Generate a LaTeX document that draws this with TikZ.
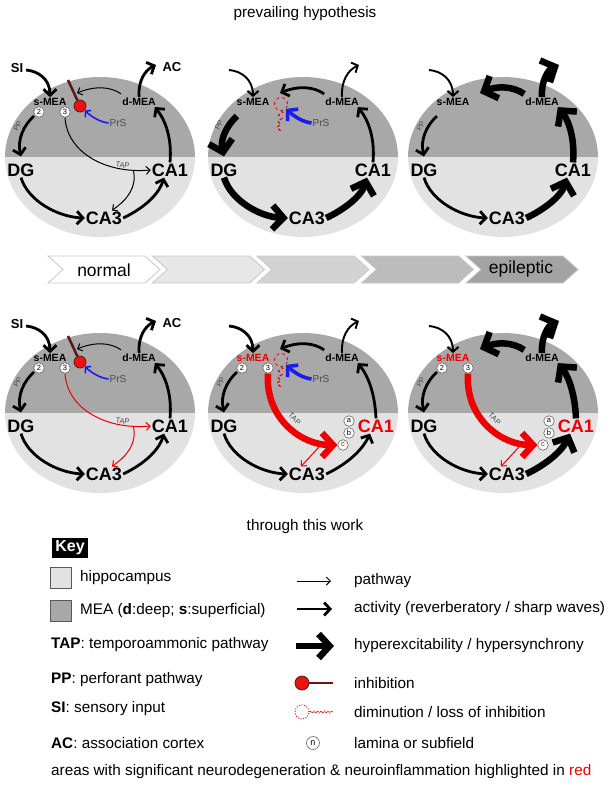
\documentclass[tikz,border=0pt]{standalone}
\usepackage{fontspec}
\setmainfont{Liberation Sans}
\usetikzlibrary{arrows.meta,decorations.pathmorphing}

\definecolor{meagray}{RGB}{168,168,168}
\definecolor{hipgray}{RGB}{226,226,226}
\definecolor{inhred}{RGB}{236,18,18}
\definecolor{stemred}{RGB}{92,22,22}
\definecolor{prsblue}{RGB}{28,28,232}
\definecolor{labelgray}{RGB}{75,75,75}
\definecolor{hotred}{RGB}{238,0,0}
\definecolor{chevA}{RGB}{231,231,231}
\definecolor{chevB}{RGB}{211,211,211}
\definecolor{chevC}{RGB}{188,188,188}
\definecolor{chevD}{RGB}{163,163,163}

\tikzset{
  region/.style={font=\fontsize{18}{18}\selectfont\bfseries, inner sep=1pt},
  mealab/.style={font=\fontsize{10.5}{11}\selectfont\bfseries, inner sep=1pt},
  iolab/.style={font=\fontsize{13}{13}\selectfont\bfseries, inner sep=1pt},
  faint/.style={font=\fontsize{7.5}{8}\selectfont, text=labelgray, inner sep=1pt},
  prslab/.style={font=\fontsize{10}{10}\selectfont, text=labelgray, inner sep=1pt},
  lamina/.style={circle, draw=black!60, fill=white, line width=0.6pt, inner sep=0pt,
    minimum size=10.5pt, font=\fontsize{7.5}{8}\selectfont},
  ball/.style={circle, fill=inhred, draw=stemred, line width=0.8pt, minimum size=12pt, inner sep=0pt},
  lostball/.style={circle, draw=hotred, dashed, line width=0.8pt, minimum size=13pt, inner sep=0pt},
  pathway/.style={draw, line width=1pt, -{Straight Barb[length=4pt,width=8pt]}},
  medium/.style={draw, line width=1.9pt, -{Straight Barb[length=5pt,width=11pt]}},
  activity/.style={draw, line width=2.8pt, -{Straight Barb[length=6pt,width=13pt]}},
  hyper/.style={draw, line width=6.5pt, -{Straight Barb[length=11pt,width=24pt]}},
  inhstem/.style={draw=stemred, line width=2.5pt},
  lostlink/.style={draw=hotred, dashed, line width=1.1pt, decorate,
    decoration={zigzag, amplitude=2pt, segment length=6pt}},
  prsarrow/.style={draw=prsblue, line width=1.6pt, -{Straight Barb[length=4pt,width=9pt]}},
  prsstrong/.style={draw=prsblue, line width=3.6pt, -{Straight Barb[length=7pt,width=16pt]}},
  siin/.style={activity}, acout/.style={activity}, dmeasmea/.style={pathway},
  ppath/.style={activity}, dgca3/.style={activity}, ca3ca1/.style={activity},
  ca1dmea/.style={activity}, smea/.style={}, ca1lab/.style={},
  heading/.style={font=\fontsize{15.3}{16}\selectfont, inner sep=0pt},
  keyitem/.style={font=\fontsize{15.3}{16}\selectfont, inner sep=0pt, anchor=west},
  swatch/.style={draw=black!65, line width=1pt, minimum size=21pt, inner sep=0pt},
  stage/.style={font=\fontsize{17.5}{18}\selectfont, inner sep=0pt}
}

% one MEA / hippocampus loop, drawn round (0,0)
\newcommand{\hippo}{%
  \begin{scope}
    \clip (0,0) ellipse [x radius=95, y radius=80];
    \fill[meagray] (-96,-81) rectangle (96,0);
    \fill[hipgray] (-96,0) rectangle (96,81);
  \end{scope}
  \node[region] (DG) at (-79,13) {DG};
  \node[region, ca1lab] (CA1) at (70,13) {CA1};
  \node[region] (CA3) at (4,61) {CA3};
  \node[mealab, smea] (sMEA) at (-50,-55) {s-MEA};
  \node[mealab] (dMEA) at (39,-55) {d-MEA};
  \coordinate (si) at (-74,-87);
  \coordinate (ac) at (56,-92);
  \coordinate (dm) at (-23,-64);
  \coordinate (pp) at (-66,-41);
  \path[siin] (si) .. controls (-62,-86) and (-50,-78) .. (sMEA.north);
  \path[acout] (dMEA.north) .. controls (38,-76) and (45,-87) .. (ac);
  \path[dmeasmea] ([yshift=3pt]dMEA.north west) .. controls (10,-71) and (-6,-71) .. (dm);
  \path[ppath] (pp) .. controls (-76,-32) and (-83,-18) .. ([yshift=6pt]DG.north)
    node[faint, pos=.4, sloped, above=2pt] (pplab) {PP};
  \path[dgca3] (DG.south) .. controls (-72,44) and (-42,60) .. (CA3.west);
  \path[ca3ca1] (CA3.east) .. controls (40,53) and (58,40) .. ([xshift=-6pt]CA1.south);
  \path[ca1dmea] (CA1.north) .. controls (72,-18) and (66,-36) .. ([xshift=-2pt]dMEA.south east);
}

\begin{document}
\begin{tikzpicture}[x=1pt, y=-1pt]
\useasboundingbox (0,0) rectangle (611,788);

\node[heading] (prevailing) at (305,14) {prevailing hypothesis};

% normal
\begin{scope}[shift={(100,157)}, name prefix=ta-]
  \hippo
  \node[iolab] (SI) at (-83,-89) {SI};
  \node[iolab] (AC) at (72,-90) {AC};
  \node[lamina] (c2) at (-61,-45) {2};
  \node[lamina] (c3) at (-35,-45) {3};
  \coordinate (stemtop) at (-32,-77);
  \node[ball] (inh) at (-20,-51) {};
  \path[inhstem] (stemtop) -- (inh);
  \node[prslab] (PrS) at (18,-34) {PrS};
  \path[prsarrow] (PrS.west) .. controls (0,-35) and (-8,-40) .. (inh.south east);
  \path[pathway] (c3.south) .. controls (-33,-5) and (5,17) .. (CA1.west)
    node[faint, pos=.78, sloped, above] (taplab) {TAP}
    coordinate[pos=.87] (fork);
  \path[pathway] (fork) .. controls (37,30) and (28,42) .. ([xshift=8pt]CA3.north);
\end{scope}

\begin{scope}[shift={(303,157)}, name prefix=tb-, siin/.style={medium},
  acout/.style={medium}, dmeasmea/.style={activity}, ppath/.style={hyper},
  dgca3/.style={hyper}, ca3ca1/.style={hyper}]
  \hippo
  \node[lostball] (inh) at (-22,-53) {};
  \coordinate (lostend) at (-25,-25);
  \path[lostlink] (inh.south) -- (lostend);
  \node[prslab] (PrS) at (18,-34) {PrS};
  \path[prsstrong] (PrS.west) .. controls (0,-35) and (-8,-40) .. (inh.south east);
\end{scope}

\begin{scope}[shift={(503,157)}, name prefix=tc-, siin/.style={medium},
  acout/.style={hyper}, dmeasmea/.style={hyper}, ca3ca1/.style={hyper},
  ca1dmea/.style={hyper}]
  \hippo
\end{scope}

% progression
\foreach \i/\shade in {0/white, 1/chevA, 2/chevB, 3/chevC, 4/chevD} {
  \path[draw=gray!45, fill=\shade, line width=0.8pt] ({48+104.5*\i},256) -- ++(97,0)
    -- ++(15,13.5) -- ++(-15,13.5) -- ++(-97,0) -- ++(15,-13.5) -- cycle;
}
\node[stage] (normal) at (104,270) {normal};
\node[stage] (epileptic) at (521,269) {epileptic};

% through this work
\begin{scope}[shift={(100,413)}, name prefix=ba-]
  \hippo
  \node[iolab] (SI) at (-83,-89) {SI};
  \node[iolab] (AC) at (72,-90) {AC};
  \node[lamina] (c2) at (-61,-45) {2};
  \node[lamina] (c3) at (-35,-45) {3};
  \coordinate (stemtop) at (-32,-77);
  \node[ball] (inh) at (-20,-51) {};
  \path[inhstem] (stemtop) -- (inh);
  \node[prslab] (PrS) at (18,-34) {PrS};
  \path[prsarrow] (PrS.west) .. controls (0,-35) and (-8,-40) .. (inh.south east);
  \path[pathway, draw=hotred] (c3.south) .. controls (-33,-5) and (5,17) .. (CA1.west)
    node[faint, pos=.78, sloped, above] (taplab) {TAP}
    coordinate[pos=.87] (fork);
  \path[pathway, draw=hotred] (fork) .. controls (37,30) and (28,42) .. ([xshift=8pt]CA3.north);
\end{scope}

\begin{scope}[shift={(303,413)}, name prefix=bb-, acout/.style={medium},
  dmeasmea/.style={activity}, smea/.style={text=hotred},
  ca1lab/.style={text=hotred, xshift=3pt}]
  \hippo
  \node[lamina] (c2) at (-61,-45) {2};
  \node[lamina] (c3) at (-35,-45) {3};
  \node[lostball] (inh) at (-22,-53) {};
  \coordinate (lostend) at (-25,-25);
  \path[lostlink] (inh.south) -- (lostend);
  \node[prslab] (PrS) at (18,-34) {PrS};
  \path[prsstrong] (PrS.west) .. controls (0,-35) and (-8,-40) .. (inh.south east);
  \node[lamina] (la) at (46,8) {a};
  \node[lamina] (lb) at (46,20) {b};
  \node[lamina] (lc) at (40,32) {\textcolor{hotred}{c}};
  \path[hyper, draw=hotred] (c3.south) .. controls (-38,5) and (-2,32) .. (lc.west)
    node[faint, pos=.5, sloped, above=3pt] (taplab) {TAP}
    coordinate[pos=.86] (fork);
  \path[pathway, draw=hotred] (fork) -- ([xshift=-6pt]CA3.north);
\end{scope}

\begin{scope}[shift={(503,413)}, name prefix=bc-, siin/.style={medium},
  acout/.style={hyper}, dmeasmea/.style={hyper}, ca3ca1/.style={hyper},
  ca1dmea/.style={hyper}, smea/.style={text=hotred},
  ca1lab/.style={text=hotred, xshift=3pt}]
  \hippo
  \node[lamina] (c2) at (-61,-45) {2};
  \node[lamina] (c3) at (-35,-45) {3};
  \node[lamina] (la) at (46,8) {a};
  \node[lamina] (lb) at (46,20) {b};
  \node[lamina] (lc) at (40,32) {\textcolor{hotred}{c}};
  \path[hyper, draw=hotred] (c3.south) .. controls (-38,5) and (-2,32) .. (lc.west)
    node[faint, pos=.5, sloped, above=3pt] (taplab) {TAP}
    coordinate[pos=.86] (fork);
  \path[pathway, draw=hotred] (fork) -- ([xshift=-6pt]CA3.north);
\end{scope}

\node[heading] (thiswork) at (305,527) {through this work};

% key
\node[fill=black, text=white, font=\fontsize{16}{16}\selectfont\bfseries,
  minimum width=36pt, minimum height=20pt, inner sep=1pt] (key) at (70,548) {Key};
\node[swatch, fill=hipgray] (hipbox) at (61,578) {};
\node[keyitem] (hiptxt) at (80,578) {hippocampus};
\node[swatch, fill=meagray] (meabox) at (61,611) {};
\node[keyitem] (meatxt) at (80,611) {MEA (\textbf{d}:deep; \textbf{s}:superficial)};
\node[keyitem] (taptxt) at (51,645) {\textbf{TAP}: temporoammonic pathway};
\node[keyitem] (pptxt) at (51,680) {\textbf{PP}: perforant pathway};
\node[keyitem] (sitxt) at (51,709) {\textbf{SI}: sensory input};
\node[keyitem] (actxt) at (51,743) {\textbf{AC}: association cortex};
\node[keyitem] (areas) at (51,772) {areas with significant neurodegeneration \&
  neuroinflammation highlighted in \textcolor{hotred}{red}};

\coordinate (kpa) at (297,581); \coordinate (kpb) at (331,581);
\path[pathway] (kpa) -- (kpb);
\node[keyitem] (pathtxt) at (354,581) {pathway};
\coordinate (kaa) at (297,609); \coordinate (kab) at (332,609);
\path[activity] (kaa) -- (kab);
\node[keyitem] (acttxt) at (354,609) {activity (reverberatory / sharp waves)};
\coordinate (kha) at (296,646); \coordinate (khb) at (334,646);
\path[hyper] (kha) -- (khb);
\node[keyitem] (hyptxt) at (354,646) {hyperexcitability / hypersynchrony};
\node[ball, minimum size=14pt] (kinh) at (302,683) {};
\coordinate (kie) at (333,683);
\path[draw=stemred!85!red, line width=2.2pt] (kinh) -- (kie);
\node[keyitem] (inhtxt) at (354,683) {inhibition};
\node[circle, draw=hotred, dash pattern=on 1pt off 1.6pt, line width=0.9pt,
  minimum size=14pt, inner sep=0pt] (klost) at (302,712) {};
\coordinate (kle) at (333,712);
\path[draw=hotred, dash pattern=on 0.8pt off 0.8pt, line width=0.9pt, decorate,
  decoration={snake, amplitude=1pt, segment length=3.5pt}] (klost) -- (kle);
\node[keyitem] (losttxt) at (354,712) {diminution / loss of inhibition};
\node[lamina, minimum size=13pt, font=\fontsize{9}{9}\selectfont] (kn) at (313,743) {n};
\node[keyitem] (lamtxt) at (354,743) {lamina or subfield};
\end{tikzpicture}
\end{document}
